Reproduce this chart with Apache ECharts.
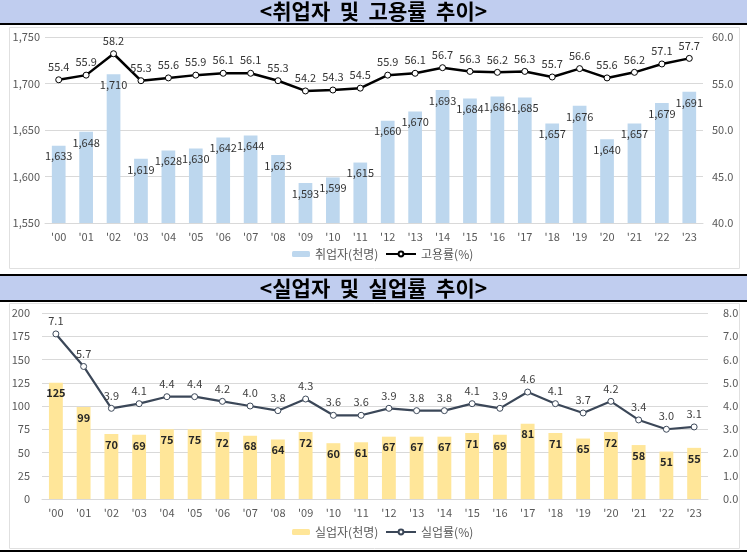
<!DOCTYPE html>
<html><head><meta charset="utf-8">
<script src="https://cdn.jsdelivr.net/npm/echarts@6/dist/echarts.min.js"></script>
<style>html,body{margin:0;padding:0;background:#fff;}#c{width:747px;height:557px;}</style>
</head><body><div id="c"></div>
<script>
const years = ["'00","'01","'02","'03","'04","'05","'06","'07","'08","'09","'10","'11","'12","'13","'14","'15","'16","'17","'18","'19","'20","'21","'22","'23"];
const employed = [1633,1648,1710,1619,1628,1630,1642,1644,1623,1593,1599,1615,1660,1670,1693,1684,1686,1685,1657,1676,1640,1657,1679,1691];
const employmentRate = [55.4,55.9,58.2,55.3,55.6,55.9,56.1,56.1,55.3,54.2,54.3,54.5,55.9,56.1,56.7,56.3,56.2,56.3,55.7,56.6,55.6,56.2,57.1,57.7];
const unemployed = [125,99,70,69,75,75,72,68,64,72,60,61,67,67,67,71,69,81,71,65,72,58,51,55];
const unemploymentRate = [7.1,5.7,3.9,4.1,4.4,4.4,4.2,4.0,3.8,4.3,3.6,3.6,3.9,3.8,3.8,4.1,3.9,4.6,4.1,3.7,4.2,3.4,3.0,3.1];
const title1 = '<취업자  및  고용률  추이>';
const title2 = '<실업자  및  실업률  추이>';

const FONT = '"Noto Sans CJK KR", "Noto Sans", sans-serif';
const AX = '#595959';
const LBL = '#333333';
const comma = v => String(v).replace(/\B(?=(\d{3})+(?!\d))/g, ',');

const chart = echarts.init(document.getElementById('c'));
const axisLabel = {color: AX, fontSize: 11, fontFamily: FONT};
const splitLine = {show: true, lineStyle: {color: '#d9d9d9', width: 1}};

chart.setOption({
  animation: false,
  textStyle: {fontFamily: FONT},
  graphic: {
    z: 0,
    elements: [
      {type: 'rect', shape: {x: 0, y: 0, width: 747, height: 23}, style: {fill: '#c0cdef'}},
      {type: 'rect', shape: {x: 0, y: 23, width: 747, height: 2}, style: {fill: '#000'}},
      {type: 'rect', shape: {x: 9.5, y: 27.5, width: 730, height: 241}, style: {fill: 'none', stroke: '#e0e0e0', lineWidth: 1}},
      {type: 'rect', shape: {x: 0, y: 274, width: 747, height: 2}, style: {fill: '#000'}},
      {type: 'rect', shape: {x: 0, y: 276, width: 747, height: 24}, style: {fill: '#c0cdef'}},
      {type: 'rect', shape: {x: 0, y: 300, width: 747, height: 2}, style: {fill: '#000'}},
      {type: 'rect', shape: {x: 9.5, y: 303.5, width: 730, height: 245}, style: {fill: 'none', stroke: '#e0e0e0', lineWidth: 1}},
      {type: 'rect', shape: {x: 0, y: 550, width: 747, height: 2}, style: {fill: '#000'}}
    ]
  },
  title: [
    {text: title1, left: 'center', top: 0, padding: 0, z: 10,
     textStyle: {fontSize: 21, fontWeight: 'bold', color: '#000', fontFamily: FONT, lineHeight: 23}},
    {text: title2, left: 'center', top: 277, padding: 0, z: 10,
     textStyle: {fontSize: 21, fontWeight: 'bold', color: '#000', fontFamily: FONT, lineHeight: 23}}
  ],
  legend: [
    {data: ['취업자(천명)'], left: 292, top: 248, itemWidth: 18, itemHeight: 6, itemGap: 4, padding: 0,
     textStyle: {color: AX, fontSize: 12, fontFamily: FONT}},
    {data: ['고용률(%)'], left: 385, top: 248, itemWidth: 30, itemHeight: 6, padding: 0,
     textStyle: {color: AX, fontSize: 12, fontFamily: FONT}},
    {data: ['실업자(천명)'], left: 292, top: 526, itemWidth: 18, itemHeight: 6, padding: 0,
     textStyle: {color: AX, fontSize: 12, fontFamily: FONT}},
    {data: ['실업률(%)'], left: 385, top: 526, itemWidth: 30, itemHeight: 6, padding: 0,
     textStyle: {color: AX, fontSize: 12, fontFamily: FONT}}
  ],
  grid: [
    {left: 45, right: 44, top: 37, height: 186},
    {left: 42, right: 39, top: 313, height: 186}
  ],
  xAxis: [
    {type: 'category', gridIndex: 0, data: years, axisTick: {show: false},
     axisLine: {lineStyle: {color: '#d9d9d9'}}, axisLabel: Object.assign({margin: 8}, axisLabel)},
    {type: 'category', gridIndex: 1, data: years, axisTick: {show: false},
     axisLine: {lineStyle: {color: '#d9d9d9'}}, axisLabel: Object.assign({margin: 8}, axisLabel)}
  ],
  yAxis: [
    {type: 'value', gridIndex: 0, min: 1550, max: 1750, interval: 50, splitLine,
     axisLabel: Object.assign({margin: 5, formatter: v => comma(v)}, axisLabel)},
    {type: 'value', gridIndex: 0, min: 40, max: 60, interval: 5, position: 'right', splitLine: {show: false},
     axisLabel: Object.assign({margin: 9, formatter: v => v.toFixed(1)}, axisLabel)},
    {type: 'value', gridIndex: 1, min: 0, max: 200, interval: 25, splitLine,
     axisLabel: Object.assign({margin: 12}, axisLabel)},
    {type: 'value', gridIndex: 1, min: 0, max: 8, interval: 1, position: 'right', splitLine: {show: false},
     axisLabel: Object.assign({margin: 15, formatter: v => v.toFixed(1)}, axisLabel)}
  ],
  series: [
    {name: '취업자(천명)', type: 'bar', xAxisIndex: 0, yAxisIndex: 0, data: employed, barWidth: '50%',
     itemStyle: {color: '#bdd7ee'},
     label: {show: true, position: 'insideTop', distance: 5, color: LBL, fontSize: 11,
       fontFamily: FONT, formatter: p => comma(p.value)}},
    {name: '고용률(%)', type: 'line', xAxisIndex: 0, yAxisIndex: 1, data: employmentRate, z: 5,
     lineStyle: {color: '#000', width: 2.5}, symbol: 'circle', symbolSize: 6,
     itemStyle: {color: '#fff', borderColor: '#000', borderWidth: 1},
     label: {show: true, position: 'top', distance: 4, color: LBL, fontSize: 11,
       fontFamily: FONT, formatter: p => p.value.toFixed(1)}},
    {name: '실업자(천명)', type: 'bar', xAxisIndex: 1, yAxisIndex: 2, data: unemployed, barWidth: '50%',
     itemStyle: {color: '#ffe699'},
     label: {show: true, position: 'insideTop', distance: 5, color: '#262626', fontSize: 11, fontWeight: 'bold',
       fontFamily: FONT}},
    {name: '실업률(%)', type: 'line', xAxisIndex: 1, yAxisIndex: 3, data: unemploymentRate, z: 5,
     lineStyle: {color: '#3b4758', width: 2.2}, symbol: 'circle', symbolSize: 6,
     itemStyle: {color: '#fff', borderColor: '#3b4758', borderWidth: 1},
     label: {show: true, position: 'top', distance: 4, color: '#404040', fontSize: 11,
       fontFamily: FONT, formatter: p => p.value.toFixed(1)}}
  ]
});
</script>
</body></html>
